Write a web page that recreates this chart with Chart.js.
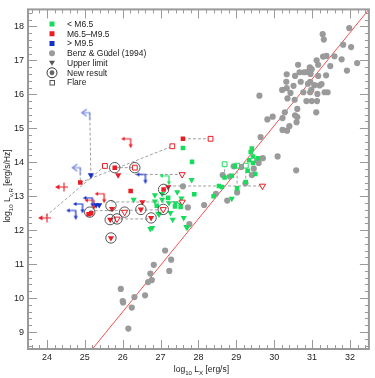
<!DOCTYPE html>
<html>
<head>
<meta charset="utf-8">
<script src="https://cdn.jsdelivr.net/npm/chart.js@4.4.0/dist/chart.umd.min.js"></script>
<style>
  html, body { margin: 0; padding: 0; background: #fff; }
  canvas { display: block; }
</style>
</head>
<body>
<canvas id="lxlr" width="375" height="378"></canvas>
<script>
// ---- data (log10 L_X, log10 L_nu,R) ----
const xTicks = [24, 25, 26, 27, 28, 29, 30, 31, 32];
const yTicks = [9, 10, 11, 12, 13, 14, 15, 16, 17, 18];

// Benz & Guedel (1994) sample
const benz = [
  [31.98,17.95],[31.28,17.77],[31.31,17.61],[31.82,17.46],[32.03,17.39],[31.29,17.11],[31.38,17.13],
  [31.59,17.12],[31.12,17.0],[31.78,17.03],[32.19,16.92],[30.63,16.87],[31.16,16.87],[30.94,16.79],
  [30.99,16.74],[31.48,16.83],[31.92,16.70],[30.67,16.65],[30.79,16.65],[30.88,16.66],[30.96,16.60],
  [30.33,16.59],[30.55,16.54],[31.16,16.54],[31.37,16.56],[30.95,16.37],[30.89,16.31],[30.32,16.37],
  [30.70,16.37],[31.06,16.27],[31.25,16.30],[31.20,16.26],[30.51,16.25],[30.33,16.18],[30.21,16.13],
  [30.43,16.04],[30.98,16.13],[30.77,16.06],[30.95,16.06],[31.14,16.01],[31.33,16.06],[31.41,16.06],
  [29.61,15.96],[30.35,15.88],[30.54,15.84],[30.85,15.80],[30.99,15.80],[31.13,15.80],[30.61,15.57],
  [30.28,15.47],[31.11,15.47],[30.55,15.38],[30.61,15.33],[29.82,15.26],[29.96,15.34],[30.22,15.30],
  [30.59,15.18],[30.40,15.06],[30.22,14.95],[30.34,14.93],[29.64,14.74],[30.09,14.17],[30.58,13.76],
  [29.70,14.12],[29.59,13.98],[29.55,14.05],[29.46,13.81],[29.41,13.62],[29.13,13.86],[28.93,13.88],
  [28.64,13.62],[29.02,13.11],[29.24,13.38],[28.83,13.58],[27.59,13.29],[27.72,12.67],[27.76,12.18],
  [28.15,12.74],[28.46,13.07],[28.76,12.87],[27.12,11.40],[27.28,11.13],[27.23,10.80],[26.82,10.98],
  [26.73,10.72],[26.77,10.53],[26.67,10.47],[26.59,10.08],[26.31,10.03],[26.24,9.72],[26.15,9.10],
  [25.95,10.27],[26.00,9.91],[26.01,9.87]
];

// < M6.5
const earlyDet = [
  [27.59,14.42],[27.83,14.01],[27.89,13.06],[27.53,12.68],[26.90,12.72],[27.20,12.95],[27.38,12.70],
  [29.41,14.40],[29.38,14.30],[29.44,14.17],[29.34,14.06],[29.57,14.12],[29.44,13.98],[29.50,13.65],
  [29.25,13.42],[28.96,13.88],[28.88,13.60],[28.54,13.30],[28.62,13.27],[29.02,13.23],[28.69,13.55],
  [29.30,13.75],[28.40,13.00]
];
const earlyLim = [
  [26.29,12.90],[26.85,13.03],[26.85,12.85],[27.04,12.90],[27.04,13.07],[27.22,12.80],[27.32,12.31],
  [27.26,12.51],[26.78,12.07],[26.73,12.04],[26.94,12.49],[27.53,12.75],[27.61,12.36],[27.68,12.10],
  [27.55,12.94],[27.39,12.80],[27.82,13.48],[27.44,13.12],[26.96,12.46],[27.70,12.07],[28.88,12.93]
];
const earlyFlare = [[28.69,13.94],[29.02,13.90],[29.25,13.90]];
const earlyBoth = [[27.22,13.60]];

// M6.5 - M9.5
const midDet = [[27.59,14.69],[24.88,13.40],[25.79,13.84],[26.21,13.15],[27.08,13.20],[25.10,12.47],[25.17,12.50]];
const midLim = [
  [25.88,13.62],[25.67,12.31],[25.69,11.77],[26.48,12.61],[26.75,12.36],[26.52,12.83],[25.72,12.63],[27.20,13.27]
];
const midFlare = [[25.53,13.89],[27.31,14.47],[28.32,14.69],[26.32,13.84]];
const midFlareLim = [[27.57,13.64],[29.69,13.30],[27.57,12.83],[26.05,12.53],[25.85,12.33],[27.07,12.61]];
const midBoth = [[26.21,14.69],[25.51,13.07],[25.24,12.88]];
const midXLim = [[24.00,12.36],[24.45,13.27]];

// > M9.5
const lateLim = [[25.16,13.62],[25.30,12.74],[25.38,12.74]];
const lateBoth = [[26.60,13.64],[25.20,12.95],[24.94,12.77],[24.76,12.58]];
const lateFlareBoth = [[25.13,15.46],[24.88,13.84]];

// new results
const newResult = [
  [25.79,13.84],[26.32,13.84],[27.08,13.20],[25.13,12.53],[25.69,12.72],[25.67,12.31],
  [25.85,12.33],[25.69,11.77],[26.05,12.53],[26.48,12.61],[26.75,12.36],[27.07,12.61]
];

// dashed links between observations of the same source
const links = [
  [[23.97,12.41],[25.53,13.89]],
  [[24.88,13.40],[27.31,14.47]],
  [[25.13,15.46],[25.16,13.62]],
  [[24.88,13.84],[24.88,13.40]],
  [[25.79,13.84],[26.32,13.84]],
  [[27.59,14.69],[28.32,14.69]],
  [[26.32,13.64],[27.57,13.64]],
  [[27.20,13.30],[29.69,13.30]],
  [[25.70,12.83],[27.57,12.83]],
  [[25.13,12.57],[27.07,12.60]],
  [[25.67,12.33],[26.75,12.33]],
  [[28.69,13.94],[28.69,13.55]],
  [[29.02,13.90],[29.02,13.23]],
  [[29.25,13.90],[29.25,13.42]]
];

// Guedel-Benz relation, drawn across the frame
const gbLine = [[25.2, 8.5], [32.5, 18.5]];

const GREEN = '#18dc5c', RED = '#ea1c24', BLUE = '#1430c8', LBLUE = '#6b80dc', GRAY = '#9a9a9a';

// ---- custom marker shapes ----
function marker(w, h, draw) {
  const c = document.createElement('canvas');
  c.width = w; c.height = h;
  draw(c.getContext('2d'));
  return c;
}
// upper limit in both axes: arm to the left and arm downwards
function cornerStyle(color, open) {
  return marker(22, 22, g => {
    g.strokeStyle = color; g.fillStyle = color; g.lineWidth = 1.2;
    g.beginPath(); g.moveTo(3, 11); g.lineTo(11, 11); g.lineTo(11, 18); g.stroke();
    g.beginPath(); g.moveTo(1.5, 11); g.lineTo(5, 9); g.lineTo(5, 13); g.closePath();
    open ? g.stroke() : g.fill();
    g.beginPath(); g.moveTo(11, 20.5); g.lineTo(9, 16.5); g.lineTo(13, 16.5); g.closePath();
    open ? g.stroke() : g.fill();
  });
}
function xLimStyle(color) {
  return marker(22, 22, g => {
    g.strokeStyle = color; g.fillStyle = color; g.lineWidth = 1.1;
    g.beginPath(); g.moveTo(4, 11); g.lineTo(15, 11); g.moveTo(11, 6.5); g.lineTo(11, 15.5); g.stroke();
    g.beginPath(); g.moveTo(2, 11); g.lineTo(6.5, 8.5); g.lineTo(6.5, 13.5); g.closePath(); g.fill();
  });
}
function flareCornerStyle(color) {
  return marker(22, 22, g => {
    g.strokeStyle = color; g.lineWidth = 1.1;
    g.beginPath(); g.moveTo(8, 7.5); g.lineTo(3, 11); g.lineTo(8, 14.5); g.stroke();
    g.beginPath(); g.moveTo(3, 11); g.lineTo(11, 11); g.lineTo(11, 18); g.stroke();
  });
}

const pts = arr => arr.map(([x, y]) => ({ x, y }));

function scatterSet(data, opts) {
  return Object.assign({ data: pts(data), pointBorderWidth: 0, pointHoverRadius: 0 }, opts);
}

const datasets = [];
datasets.push(scatterSet(gbLine, { showLine: true, borderColor: '#f25050', borderWidth: 1, pointRadius: 0, order: 12 }));
links.forEach(l => datasets.push(scatterSet(l, {
  showLine: true, borderColor: '#a0a0a0', borderWidth: 1, borderDash: [3, 2], pointRadius: 0, order: 11
})));
datasets.push(scatterSet(benz, { pointStyle: 'circle', pointRadius: 3.1, backgroundColor: GRAY, order: 10 }));

// squares
datasets.push(scatterSet(earlyDet, { pointStyle: 'rect', pointRadius: 3.2, backgroundColor: GREEN, order: 5 }));
datasets.push(scatterSet(midDet, { pointStyle: 'rect', pointRadius: 3.2, backgroundColor: RED, order: 5 }));
// filled upper-limit triangles
datasets.push(scatterSet(earlyLim, { pointStyle: 'triangle', rotation: 180, pointRadius: 3.6, backgroundColor: GREEN, order: 6 }));
datasets.push(scatterSet(midLim, { pointStyle: 'triangle', rotation: 180, pointRadius: 3.6, backgroundColor: RED, order: 5 }));
datasets.push(scatterSet(lateLim, { pointStyle: 'triangle', rotation: 180, pointRadius: 3.6, backgroundColor: BLUE, order: 5 }));
// flares: open markers
datasets.push(scatterSet(earlyFlare, { pointStyle: 'rect', pointRadius: 3.4, backgroundColor: '#fff', borderColor: GREEN, pointBorderWidth: 1, order: 5 }));
datasets.push(scatterSet(midFlare, { pointStyle: 'rect', pointRadius: 3.4, backgroundColor: '#fff', borderColor: RED, pointBorderWidth: 1, order: 5 }));
datasets.push(scatterSet(midFlareLim, { pointStyle: 'triangle', rotation: 180, pointRadius: 3.6, backgroundColor: '#fff', borderColor: RED, pointBorderWidth: 1, order: 5 }));
// double upper limits
datasets.push(scatterSet(earlyBoth, { pointStyle: cornerStyle(GREEN), order: 6 }));
datasets.push(scatterSet(midBoth, { pointStyle: cornerStyle(RED), order: 5 }));
datasets.push(scatterSet(lateBoth, { pointStyle: cornerStyle(BLUE), order: 5 }));
datasets.push(scatterSet(lateFlareBoth, { pointStyle: flareCornerStyle(LBLUE), order: 5 }));
datasets.push(scatterSet(midXLim, { pointStyle: xLimStyle(RED), order: 5 }));
// new results: open rings
datasets.push(scatterSet(newResult, {
  pointStyle: 'circle', pointRadius: 5.2, backgroundColor: 'rgba(0,0,0,0)', borderColor: '#444', pointBorderWidth: 0.9, order: 1
}));

// ---- frame with inward ticks on all sides ----
const framePlugin = {
  id: 'frame',
  afterDraw(chart) {
    const { ctx, chartArea: a, scales } = chart;
    ctx.save();
    ctx.strokeStyle = '#9a9a9a';
    ctx.lineWidth = 1;
    const step = 0.2;
    for (let v = 23.6; v < 32.45; v += step) {
      const major = Math.abs(v - Math.round(v)) < 1e-6;
      const len = major ? 9 : 4;
      const px = Math.round(scales.x.getPixelForValue(v)) + 0.5;
      ctx.beginPath();
      ctx.moveTo(px, a.bottom); ctx.lineTo(px, a.bottom - len);
      ctx.moveTo(px, a.top); ctx.lineTo(px, a.top + len);
      ctx.stroke();
    }
    for (let v = 8.6; v < 18.45; v += step) {
      const major = Math.abs(v - Math.round(v)) < 1e-6;
      const len = major ? 9 : 4;
      const py = Math.round(scales.y.getPixelForValue(v)) + 0.5;
      ctx.beginPath();
      ctx.moveTo(a.left, py); ctx.lineTo(a.left + len, py);
      ctx.moveTo(a.right, py); ctx.lineTo(a.right - len, py);
      ctx.stroke();
    }
    ctx.lineWidth = 2;
    ctx.strokeRect(a.left, a.top, a.right - a.left, a.bottom - a.top);
    ctx.restore();
  }
};

// ---- legend in the upper left corner ----
const legendItems = ['< M6.5', 'M6.5\u2013M9.5', '> M9.5', 'Benz & G\u00fcdel (1994)', 'Upper limit', 'New result', 'Flare'];
const legendPlugin = {
  id: 'innerLegend',
  afterDraw(chart) {
    const { ctx } = chart;
    const mx = 52, tx = 67, y0 = 24, dy = 9.75;
    ctx.save();
    ctx.font = '8.5px "Liberation Sans"';
    ctx.textBaseline = 'middle';
    legendItems.forEach((t, i) => {
      const y = y0 + i * dy;
      ctx.fillStyle = '#1a1a1a';
      ctx.fillText(t, tx, y + 0.5);
      ctx.lineWidth = 1;
      if (i < 3) {
        ctx.fillStyle = [GREEN, RED, BLUE][i];
        ctx.fillRect(mx - 2.5, y - 2.5, 5, 5);
      } else if (i === 3) {
        ctx.fillStyle = GRAY;
        ctx.beginPath(); ctx.arc(mx, y, 3, 0, Math.PI * 2); ctx.fill();
      } else if (i === 4) {
        ctx.fillStyle = '#555';
        ctx.beginPath(); ctx.moveTo(mx - 3, y - 2.3); ctx.lineTo(mx + 3, y - 2.3); ctx.lineTo(mx, y + 2.8); ctx.closePath(); ctx.fill();
      } else if (i === 5) {
        ctx.fillStyle = '#666';
        ctx.beginPath(); ctx.arc(mx, y, 2.4, 0, Math.PI * 2); ctx.fill();
        ctx.strokeStyle = '#333';
        ctx.beginPath(); ctx.arc(mx, y, 5, 0, Math.PI * 2); ctx.stroke();
      } else {
        ctx.strokeStyle = '#555';
        ctx.strokeRect(mx - 2, y - 2, 4.5, 4.5);
      }
    });
    ctx.restore();
  }
};

// ---- axis titles with subscripts ----
function drawRich(ctx, parts, x, y, size) {
  let w = 0;
  parts.forEach(p => {
    ctx.font = (p.sub ? size * 0.72 : size) + 'px "Liberation Sans"';
    w += ctx.measureText(p.t).width;
  });
  let cx = x - w / 2;
  parts.forEach(p => {
    ctx.font = (p.sub ? size * 0.72 : size) + 'px "Liberation Sans"';
    ctx.fillText(p.t, cx, p.sub ? y + size * 0.3 : y);
    cx += ctx.measureText(p.t).width;
  });
}
const titlePlugin = {
  id: 'axisTitles',
  afterDraw(chart) {
    const { ctx, chartArea: a } = chart;
    ctx.save();
    ctx.fillStyle = '#1a1a1a';
    ctx.textBaseline = 'alphabetic';
    drawRich(ctx, [{ t: 'log' }, { t: '10', sub: true }, { t: ' L' }, { t: 'X', sub: true }, { t: ' [erg/s]' }],
      (a.left + a.right) / 2 + 3, 372, 8.5);
    ctx.translate(10, 186);
    ctx.rotate(-Math.PI / 2);
    drawRich(ctx, [{ t: 'log' }, { t: '10', sub: true }, { t: ' L' }, { t: '\u03bd,R', sub: true }, { t: ' [erg/s/Hz]' }],
      0, 0, 8.5);
    ctx.restore();
  }
};

const tickFont = { family: 'Liberation Sans', size: 9 };

new Chart(document.getElementById('lxlr'), {
  type: 'scatter',
  data: { datasets },
  options: {
    responsive: false,
    animation: false,
    devicePixelRatio: 1,
    layout: { padding: { top: 5, right: 5, left: 0, bottom: 0 } },
    plugins: { legend: { display: false }, tooltip: { enabled: false } },
    scales: {
      x: {
        type: 'linear', min: 23.5, max: 32.5,
        grid: { display: false, drawTicks: false },
        border: { display: false },
        afterBuildTicks: s => { s.ticks = xTicks.map(v => ({ value: v })); },
        afterFit: s => { s.height = 29; },
        ticks: { font: tickFont, color: '#222', padding: 3, maxRotation: 0, autoSkip: false }
      },
      y: {
        type: 'linear', min: 8.5, max: 18.5,
        grid: { display: false, drawTicks: false },
        border: { display: false },
        afterBuildTicks: s => { s.ticks = yTicks.map(v => ({ value: v })); },
        afterFit: s => { s.width = 28; },
        ticks: { font: tickFont, color: '#222', padding: 4, autoSkip: false }
      }
    }
  },
  plugins: [framePlugin, legendPlugin, titlePlugin]
});
</script>
</body>
</html>
